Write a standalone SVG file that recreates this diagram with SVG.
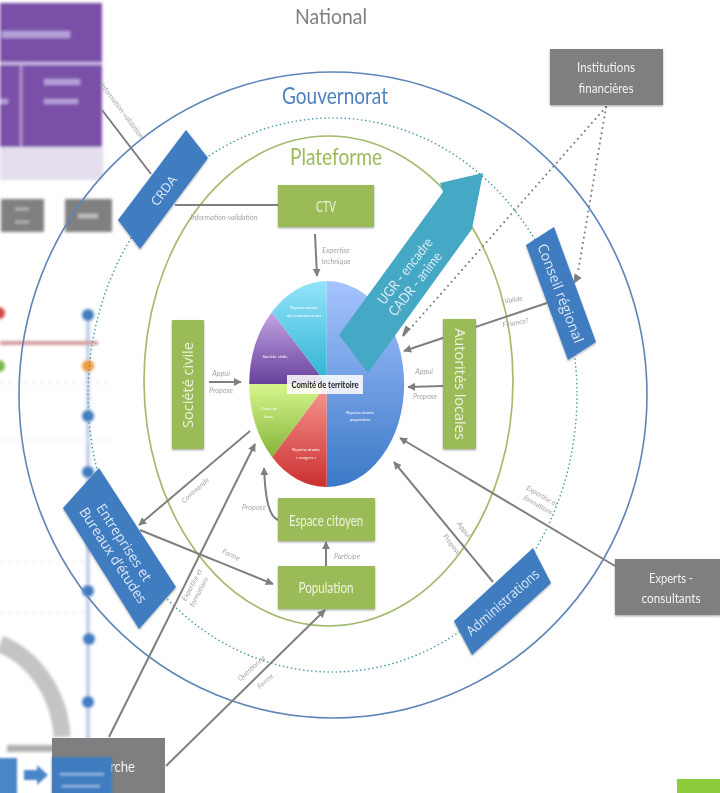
<svg xmlns="http://www.w3.org/2000/svg" width="720" height="793" viewBox="0 0 720 793">
<style>
text{font-family:"Lato","Open Sans","Liberation Sans",sans-serif}
.lbl{font-size:7.2px;font-style:italic;fill:#a6a6a6;text-anchor:middle}
.w{fill:#eef3dd;text-anchor:middle}
.wb{fill:#dbe8f6;text-anchor:middle}
.wg{fill:#f2f2f2;text-anchor:middle}
.os{font-family:"Open Sans","Noto Sans","Liberation Sans",sans-serif}
.g{fill:#9bbb59;filter:url(#sh)}
.b{fill:#3f7cc0;filter:url(#sh)}
.k{fill:#7f7f7f;filter:url(#sh)}
.c{fill:none;stroke:#7f7f7f;stroke-width:2}
.a{marker-end:url(#ah)}
.d{fill:none;stroke:#7f7f7f;stroke-width:2;stroke-dasharray:0.1 5.2;stroke-linecap:round}
.pt{font-size:4.4px;fill:#fff;text-anchor:middle}
</style>
<defs>
<marker id="ah" viewBox="0 0 10 10" refX="9" refY="5" markerWidth="8" markerHeight="8" markerUnits="userSpaceOnUse" orient="auto"><path d="M0 0L10 5L0 10z" fill="#7f7f7f"/></marker>
<filter id="sh" x="-20%" y="-20%" width="140%" height="140%"><feDropShadow dx="0" dy="1.2" stdDeviation="0.8" flood-color="#000" flood-opacity="0.35"/></filter>
<filter id="bl" x="-30%" y="-30%" width="160%" height="160%"><feGaussianBlur stdDeviation="1.8"/></filter>
<filter id="bl2" x="-30%" y="-30%" width="160%" height="160%"><feGaussianBlur stdDeviation="1"/></filter>
<filter id="soft"><feGaussianBlur stdDeviation="0.35"/></filter>
<linearGradient id="pb" x1="0" y1="0" x2="0" y2="1"><stop offset="0" stop-color="#a6c4ff"/><stop offset="1" stop-color="#3b78c6"/></linearGradient>
<linearGradient id="pc" x1="0" y1="0" x2="0" y2="1"><stop offset="0" stop-color="#94e4fa"/><stop offset="1" stop-color="#2cb2d2"/></linearGradient>
<linearGradient id="pp" x1="0" y1="0" x2="0" y2="1"><stop offset="0" stop-color="#c4a4e4"/><stop offset="1" stop-color="#67409a"/></linearGradient>
<linearGradient id="pg" x1="0" y1="0" x2="0" y2="1"><stop offset="0" stop-color="#d6f68c"/><stop offset="1" stop-color="#86b43a"/></linearGradient>
<linearGradient id="pr" x1="0" y1="0" x2="0" y2="1"><stop offset="0" stop-color="#f89a94"/><stop offset="1" stop-color="#cc2f2f"/></linearGradient>
</defs>
<rect width="720" height="793" fill="#fff"/>
<g filter="url(#soft)">
<g id="background">
<g filter="url(#bl)">
<rect x="0" y="147" width="103" height="33" fill="#e4deee"/>
<rect x="0" y="3" width="102" height="144" fill="#7a50a8"/>
<rect x="0" y="62" width="102" height="3" fill="#cdb8e6"/>
<rect x="20" y="65" width="2" height="82" fill="#b9a2d8"/>
<rect x="2" y="31" width="68" height="7" fill="#b6a0d8"/>
<rect x="44" y="79" width="36" height="6" fill="#b6a0d8"/>
<rect x="44" y="99" width="34" height="5" fill="#b6a0d8"/>
<rect x="0" y="99" width="8" height="5" fill="#b6a0d8"/>
<rect x="1" y="199" width="43" height="33" fill="#808080"/>
<rect x="65" y="199" width="47" height="33" fill="#808080"/>
<rect x="15" y="208" width="14" height="2" fill="#c4c4c4"/>
<rect x="15" y="221" width="14" height="2" fill="#c4c4c4"/>
<rect x="78" y="214" width="20" height="4" fill="#c4c4c4"/>
<rect x="86" y="310" width="4" height="435" fill="#c3cfe8"/>
<rect x="0" y="341" width="98" height="4" fill="#d49a9e"/>
<path d="M0 644C35 658 60 695 62 737" fill="none" stroke="#c4c4c4" stroke-width="17"/>
<path d="M0 383H108M0 440H108M0 562H85M0 613H85" stroke="#eeeeee" stroke-width="2" stroke-dasharray="4 4"/>
<g fill="#3f7cc0"><circle cx="88" cy="315" r="6"/><circle cx="88" cy="416" r="6"/><circle cx="88" cy="472" r="6"/><circle cx="88" cy="591" r="6"/><circle cx="89" cy="639" r="6"/><circle cx="88" cy="702" r="6"/></g>
<circle cx="88" cy="366" r="6" fill="#f29a3c"/><circle cx="-1" cy="313" r="6" fill="#d04848"/><circle cx="-1" cy="366" r="6" fill="#7ab648"/>
<rect x="7" y="745" width="60" height="7" fill="#b0b0b0"/>
</g>
</g>
<g id="rings" fill="none">
<ellipse cx="333" cy="395" rx="314" ry="323" stroke="#5f86b8" stroke-width="1.6"/>
<ellipse cx="332.5" cy="395" rx="244.5" ry="277" stroke="#4f9aa6" stroke-width="1.6" stroke-dasharray="0.1 4" stroke-linecap="round"/>
<ellipse cx="328.5" cy="381" rx="184.5" ry="245" stroke="#a3bb6e" stroke-width="1.7"/>
</g>
<g id="titles" text-anchor="middle">
<text x="331" y="24" font-size="22" fill="#7f7f7f" textLength="72" lengthAdjust="spacingAndGlyphs">National</text>
<text x="335" y="104" font-size="24" fill="#4f81bd" textLength="106" lengthAdjust="spacingAndGlyphs">Gouvernorat</text>
<text x="336" y="165" font-size="24" fill="#9bbb59" textLength="92" lengthAdjust="spacingAndGlyphs">Plateforme</text>
</g>
<g id="connectors">
<text class="lbl" transform="translate(120 112) rotate(53)">Information-validation</text>
<path class="c" d="M102 110L151 174"/>
<path class="c" d="M175 205H278"/>
<text class="lbl" x="224" y="220">Information-validation</text>
<path class="c a" d="M315 234L317 276"/>
<text class="lbl" x="336" y="253">Expertise</text><text class="lbl" x="336" y="264">technique</text>
<path class="c a" d="M209 382H241"/>
<text class="lbl" x="221" y="376">Appui</text><text class="lbl" x="221" y="393">Propose</text>
<path class="c a" d="M443 386L408 387"/>
<text class="lbl" x="424" y="374">Appui</text><text class="lbl" x="425" y="399">Propose</text>
<path class="c a" d="M547 303L404 351"/>
<text class="lbl" transform="translate(514 302) rotate(-10)">Valide</text>
<text class="lbl" transform="translate(516 325) rotate(-10)">Finance?</text>
<path class="d" d="M606 107L408 331"/>
<path d="M409 329L403 336L406 327z" fill="#7f7f7f" stroke="#7f7f7f" stroke-width="2"/>
<path class="d" d="M606 107L578 272"/>
<path d="M575 274L581 278L574 283z" fill="#7f7f7f" stroke="#7f7f7f"/>
<path class="c a" d="M615 566L400 438"/>
<text class="lbl" transform="translate(541 498) rotate(30)">Expertise et</text>
<text class="lbl" transform="translate(537 507) rotate(30)">formations</text>
<path class="c a" d="M493 582L394 462"/>
<text class="lbl" transform="translate(462 531) rotate(52)">Appui</text>
<text class="lbl" transform="translate(450 546) rotate(52)">Propose</text>
<path class="c a" d="M250 431L139 525"/>
<text class="lbl" transform="translate(197 492) rotate(-42)">Commande</text>
<path class="c a" d="M140 530L273 584"/>
<text class="lbl" transform="translate(230 557) rotate(25)">Forme</text>
<path class="c a" d="M278 520C267 516 265 490 264 468"/>
<text class="lbl" x="254" y="510">Propose</text>
<path class="c a" d="M326 566V542"/>
<text class="lbl" x="347" y="559">Participe</text>
<path class="c a" d="M109 737L255 444"/>
<text class="lbl" transform="translate(194 586) rotate(-62)">Expertise et</text>
<text class="lbl" transform="translate(201 593) rotate(-62)">formations</text>
<path class="c a" d="M166 766L325 610"/>
<text class="lbl" transform="translate(253 670) rotate(-42)">Questionne</text>
<text class="lbl" transform="translate(267 683) rotate(-42)">Forme</text>
</g>
<g id="pie">
<path d="M326.7 384V281A77.5 103 0 0 1 326.7 487z" fill="url(#pb)"/>
<path d="M326.7 384V487A77.5 103 0 0 1 272 457z" fill="url(#pr)"/>
<path d="M326.7 384L272 457A77.5 103 0 0 1 249.2 384z" fill="url(#pg)"/>
<path d="M326.7 384H249.2A77.5 103 0 0 1 272 312z" fill="url(#pp)"/>
<path d="M326.7 384L272 312A77.5 103 0 0 1 326.7 281z" fill="url(#pc)"/>
<text class="pt" x="304" y="309">Représentants</text><text class="pt" x="304" y="317">des communautés</text>
<text class="pt" x="275" y="358">Société civile</text>
<text class="pt" x="269" y="410">Cadre de</text><text class="pt" x="269" y="418">base</text>
<text class="pt" x="360" y="414">Représentants</text><text class="pt" x="360" y="421">population</text>
<text class="pt" x="306" y="451">Représentants</text><text class="pt" x="306" y="459">« usagers »</text>
</g>
<g id="comite"><rect x="287" y="375" width="76" height="19" fill="#fff" fill-opacity="0.85"/><text x="325" y="388" font-size="10" font-weight="700" fill="#1a1a1a" text-anchor="middle" textLength="67" lengthAdjust="spacingAndGlyphs">Comité de territoire</text></g>
<g id="ugr"><path d="M483 173L440 183L443 192L339 335L368 373L472 229z" fill="#45a8c4"/>
<text class="wb" font-size="14" transform="translate(409 274) rotate(-52)" textLength="80" lengthAdjust="spacingAndGlyphs">UGR - encadre</text>
<text class="wb" font-size="14" transform="translate(419 287) rotate(-52)" textLength="77" lengthAdjust="spacingAndGlyphs">CADR - anime</text></g>
<g id="crda"><path class="b" d="M186 130L208 158L140 249L118 220z"/><text class="wb os" font-size="13" transform="translate(167.5 193.5) rotate(-53)" textLength="34" lengthAdjust="spacingAndGlyphs">CRDA</text></g>
<g id="ctv"><rect class="g" x="278" y="185" width="96" height="42"/><text class="w" x="326" y="212" font-size="16" textLength="20" lengthAdjust="spacingAndGlyphs">CTV</text></g>
<g id="espace"><rect class="g" x="278" y="498" width="97" height="43"/><text class="w" x="326" y="526" font-size="16" textLength="74" lengthAdjust="spacingAndGlyphs">Espace citoyen</text></g>
<g id="population"><rect class="g" x="278" y="566" width="97" height="43"/><text class="w" x="326" y="593" font-size="16" textLength="55" lengthAdjust="spacingAndGlyphs">Population</text></g>
<g id="societe"><rect class="g" x="172" y="320" width="32" height="129"/><text class="w os" font-size="14.5" transform="translate(193 385) rotate(-90)">Société civile</text></g>
<g id="autorites"><rect class="g" x="443" y="319" width="33" height="130"/><text class="w os" font-size="14.5" transform="translate(455 384) rotate(90)">Autorités locales</text></g>
<g id="conseil"><path class="b" d="M526 245L554 227L596 342L568 360z"/><text class="wb os" font-size="14" transform="translate(556 295) rotate(69)" textLength="105" lengthAdjust="spacingAndGlyphs">Conseil régional</text></g>
<g id="entreprises"><path class="b" d="M99 468L63 508L139 629L176 587z"/>
<text class="wb os" font-size="14" transform="translate(120 545) rotate(57)" textLength="89" lengthAdjust="spacingAndGlyphs">Entreprises et</text>
<text class="wb os" font-size="14" transform="translate(109 558) rotate(57)" textLength="111" lengthAdjust="spacingAndGlyphs">Bureaux d’études</text></g>
<g id="administrations"><path class="b" d="M533 548L551 583L472 655L454 621z"/><text class="wb os" font-size="14" transform="translate(506 606) rotate(-41.5)" textLength="92" lengthAdjust="spacingAndGlyphs">Administrations</text></g>
<g id="institutions"><rect class="k" x="550" y="49" width="113" height="56"/><text class="wg" x="606" y="72" font-size="14" textLength="58" lengthAdjust="spacingAndGlyphs">Institutions</text><text class="wg" x="606" y="93" font-size="14" textLength="55" lengthAdjust="spacingAndGlyphs">financières</text></g>
<g id="experts"><rect class="k" x="615" y="559" width="105" height="56"/><text class="wg" x="671" y="583" font-size="14" textLength="44" lengthAdjust="spacingAndGlyphs">Experts -</text><text class="wg" x="671" y="603" font-size="14" textLength="59" lengthAdjust="spacingAndGlyphs">consultants</text></g>
<g id="recherche"><rect x="52" y="738" width="113" height="55" fill="#7f7f7f"/><text class="wg" x="105" y="772" font-size="15" textLength="60" lengthAdjust="spacingAndGlyphs">Recherche</text></g>
<g id="overlay">
<g filter="url(#bl2)"><rect x="-3" y="758" width="20" height="38" fill="#4a86c8"/><rect x="52" y="757" width="60" height="38" fill="#3f7cc0"/><path d="M24 770H37V765L48 775L37 785V780H24z" fill="#4a86c8"/>
<rect x="60" y="773" width="44" height="2.5" fill="#8fb6e0"/><rect x="62" y="785" width="38" height="2.5" fill="#8fb6e0"/></g>
<rect x="677" y="779" width="43" height="14" fill="#8ccc3c"/>
</g>
</g>
</svg>
